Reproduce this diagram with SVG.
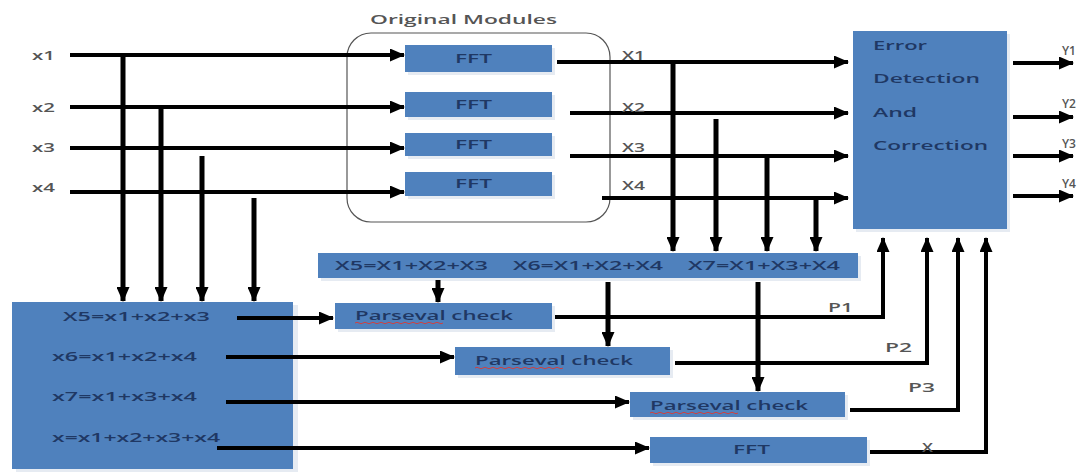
<svg xmlns="http://www.w3.org/2000/svg" width="1079" height="473" viewBox="0 0 1079 473">
<defs>
<marker id="ah" markerUnits="userSpaceOnUse" markerWidth="15" markerHeight="13" refX="14" refY="6.5" orient="auto">
<path d="M0,0 L15,6.5 L0,13 Z" fill="#000"/>
</marker>
<style>
.box{fill:#4f81bd;}
.sh{fill:#e6ebf2;}
.bt{font-family:"Open Sans","Liberation Sans",Arial,sans-serif;font-size:13px;font-weight:600;fill:#1f3864;}
.lb{font-family:"Open Sans","Liberation Sans",Arial,sans-serif;font-size:12px;font-weight:600;fill:#555;}
.c{fill:none;stroke:#000;stroke-width:4;}
.v{fill:none;stroke:#000;stroke-width:5;}
.sq{fill:none;stroke:#d04040;stroke-width:1;}
</style>
</defs>
<rect width="1079" height="473" fill="#fff"/>

<g id="original-modules">
<rect x="347" y="33" width="263" height="189" rx="24" fill="none" stroke="#555" stroke-width="1.2"/>
<text class="lb" x="370" y="24" textLength="187" lengthAdjust="spacingAndGlyphs" font-size="13">Original Modules</text>
</g>

<g id="inputs">
<text class="lb" x="32" y="60" textLength="23" lengthAdjust="spacingAndGlyphs">x1</text>
<text class="lb" x="32" y="112" textLength="23" lengthAdjust="spacingAndGlyphs">x2</text>
<text class="lb" x="32" y="152" textLength="23" lengthAdjust="spacingAndGlyphs">x3</text>
<text class="lb" x="32" y="192" textLength="23" lengthAdjust="spacingAndGlyphs">x4</text>
</g>

<g id="fft1"><rect class="sh" x="408" y="48" width="147" height="27"/><rect class="box" x="405" y="45" width="147" height="27"/><text class="bt" x="455" y="63" textLength="37" lengthAdjust="spacingAndGlyphs">FFT</text></g>
<g id="fft2"><rect class="sh" x="408" y="95" width="147" height="25"/><rect class="box" x="405" y="92" width="147" height="25"/><text class="bt" x="455" y="109" textLength="37" lengthAdjust="spacingAndGlyphs">FFT</text></g>
<g id="fft3"><rect class="sh" x="408" y="136" width="147" height="23"/><rect class="box" x="405" y="133" width="147" height="23"/><text class="bt" x="455" y="149" textLength="37" lengthAdjust="spacingAndGlyphs">FFT</text></g>
<g id="fft4"><rect class="sh" x="408" y="175" width="147" height="24"/><rect class="box" x="405" y="172" width="147" height="24"/><text class="bt" x="455" y="188" textLength="37" lengthAdjust="spacingAndGlyphs">FFT</text></g>

<g id="error-correction">
<rect class="sh" x="856" y="34" width="154" height="198"/>
<rect class="box" x="853" y="31" width="154" height="198"/>
<text class="bt" x="873" y="50" textLength="54" lengthAdjust="spacingAndGlyphs">Error</text>
<text class="bt" x="873" y="83" textLength="107" lengthAdjust="spacingAndGlyphs">Detection</text>
<text class="bt" x="873" y="117" textLength="44" lengthAdjust="spacingAndGlyphs">And</text>
<text class="bt" x="873" y="150" textLength="115" lengthAdjust="spacingAndGlyphs">Correction</text>
</g>

<g id="sum-block">
<rect class="sh" x="16" y="305" width="282" height="167"/>
<rect class="box" x="12" y="302" width="281" height="167"/>
<text class="bt" x="63" y="321" textLength="147" lengthAdjust="spacingAndGlyphs">X5=x1+x2+x3</text>
<text class="bt" x="52" y="361" textLength="145" lengthAdjust="spacingAndGlyphs">x6=x1+x2+x4</text>
<text class="bt" x="52" y="401" textLength="145" lengthAdjust="spacingAndGlyphs">x7=x1+x3+x4</text>
<text class="bt" x="52" y="442" textLength="168" lengthAdjust="spacingAndGlyphs">x=x1+x2+x3+x4</text>
</g>

<g id="parity-block">
<rect class="sh" x="321" y="256" width="540" height="25"/>
<rect class="box" x="318" y="253" width="540" height="25"/>
<text class="bt" x="335" y="270" textLength="153" lengthAdjust="spacingAndGlyphs">X5=X1+X2+X3</text>
<text class="bt" x="513" y="270" textLength="150" lengthAdjust="spacingAndGlyphs">X6=X1+X2+X4</text>
<text class="bt" x="688" y="270" textLength="152" lengthAdjust="spacingAndGlyphs">X7=X1+X3+X4</text>
</g>

<g id="parseval1">
<rect class="sh" x="338" y="306" width="217" height="26"/>
<rect class="box" x="335" y="303" width="217" height="26"/>
<text class="bt" x="355" y="320" textLength="158" lengthAdjust="spacingAndGlyphs">Parseval check</text>
<path class="sq" d="M355,323 q2,-1.5 4,0 t4,0 t4,0 t4,0 t4,0 t4,0 t4,0 t4,0 t4,0 t4,0 t4,0 t4,0 t4,0 t4,0 t4,0 t4,0 t4,0 t4,0 t4,0 t4,0 t4,0 t4,0"/>
</g>
<g id="parseval2">
<rect class="sh" x="458" y="350" width="215" height="28"/>
<rect class="box" x="455" y="347" width="215" height="28"/>
<text class="bt" x="475" y="365" textLength="158" lengthAdjust="spacingAndGlyphs">Parseval check</text>
<path class="sq" d="M475,368 q2,-1.5 4,0 t4,0 t4,0 t4,0 t4,0 t4,0 t4,0 t4,0 t4,0 t4,0 t4,0 t4,0 t4,0 t4,0 t4,0 t4,0 t4,0 t4,0 t4,0 t4,0 t4,0 t4,0"/>
</g>
<g id="parseval3">
<rect class="sh" x="633" y="395" width="215" height="25"/>
<rect class="box" x="630" y="392" width="215" height="25"/>
<text class="bt" x="650" y="410" textLength="158" lengthAdjust="spacingAndGlyphs">Parseval check</text>
<path class="sq" d="M650,413 q2,-1.5 4,0 t4,0 t4,0 t4,0 t4,0 t4,0 t4,0 t4,0 t4,0 t4,0 t4,0 t4,0 t4,0 t4,0 t4,0 t4,0 t4,0 t4,0 t4,0 t4,0 t4,0 t4,0"/>
</g>
<g id="fft-check">
<rect class="sh" x="653" y="440" width="217" height="26"/>
<rect class="box" x="650" y="437" width="217" height="26"/>
<text class="bt" x="733" y="454" textLength="37" lengthAdjust="spacingAndGlyphs">FFT</text>
</g>

<g id="connectors">
<path class="c" d="M70,55 H404" marker-end="url(#ah)"/>
<path class="c" d="M70,107 H404" marker-end="url(#ah)"/>
<path class="c" d="M70,148 H404" marker-end="url(#ah)"/>
<path class="c" d="M70,192 H404" marker-end="url(#ah)"/>
<path class="v" d="M123,57 V301" marker-end="url(#ah)"/>
<path class="v" d="M161,107 V301" marker-end="url(#ah)"/>
<path class="v" d="M202,156 V301" marker-end="url(#ah)"/>
<path class="v" d="M254,198 V301" marker-end="url(#ah)"/>
<path class="c" d="M557,62 H848" marker-end="url(#ah)"/>
<path class="c" d="M570,113 H848" marker-end="url(#ah)"/>
<path class="c" d="M570,156 H848" marker-end="url(#ah)"/>
<path class="c" d="M602,198 H848" marker-end="url(#ah)"/>
<path class="v" d="M673,62 V251" marker-end="url(#ah)"/>
<path class="v" d="M716,119 V251" marker-end="url(#ah)"/>
<path class="v" d="M767,156 V251" marker-end="url(#ah)"/>
<path class="v" d="M816,198 V251" marker-end="url(#ah)"/>
<path class="c" d="M237,318 H333" marker-end="url(#ah)"/>
<path class="c" d="M226,357 H454" marker-end="url(#ah)"/>
<path class="c" d="M226,402 H629" marker-end="url(#ah)"/>
<path class="c" d="M217,448 H649" marker-end="url(#ah)"/>
<path class="v" d="M438,280 V302" marker-end="url(#ah)"/>
<path class="v" d="M608,282 V346" marker-end="url(#ah)"/>
<path class="v" d="M758,282 V391" marker-end="url(#ah)"/>
<path class="c" d="M555,317 H883 V238" marker-end="url(#ah)"/>
<path class="c" d="M675,363 H927 V238" marker-end="url(#ah)"/>
<path class="c" d="M850,410 H958 V238" marker-end="url(#ah)"/>
<path class="c" d="M870,452 H986 V238" marker-end="url(#ah)"/>
<path class="c" d="M1013,63 H1073" marker-end="url(#ah)"/>
<path class="c" d="M1013,117 H1073" marker-end="url(#ah)"/>
<path class="c" d="M1013,156 H1073" marker-end="url(#ah)"/>
<path class="c" d="M1013,196 H1073" marker-end="url(#ah)"/>
</g>

<g id="labels">
<text class="lb" x="622" y="60" textLength="23" lengthAdjust="spacingAndGlyphs">X1</text>
<text class="lb" x="622" y="112" textLength="23" lengthAdjust="spacingAndGlyphs">X2</text>
<text class="lb" x="622" y="152" textLength="23" lengthAdjust="spacingAndGlyphs">X3</text>
<text class="lb" x="622" y="190" textLength="23" lengthAdjust="spacingAndGlyphs">X4</text>
<text class="lb" x="1062" y="55" font-size="10">Y1</text>
<text class="lb" x="1062" y="108" font-size="10">Y2</text>
<text class="lb" x="1062" y="148" font-size="10">Y3</text>
<text class="lb" x="1062" y="188" font-size="10">Y4</text>
<text class="lb" x="828" y="312" textLength="25" lengthAdjust="spacingAndGlyphs">P1</text>
<text class="lb" x="885" y="352" textLength="27" lengthAdjust="spacingAndGlyphs">P2</text>
<text class="lb" x="908" y="392" textLength="27" lengthAdjust="spacingAndGlyphs">P3</text>
<text class="lb" x="922" y="452" textLength="11" lengthAdjust="spacingAndGlyphs">X</text>
</g>
</svg>
